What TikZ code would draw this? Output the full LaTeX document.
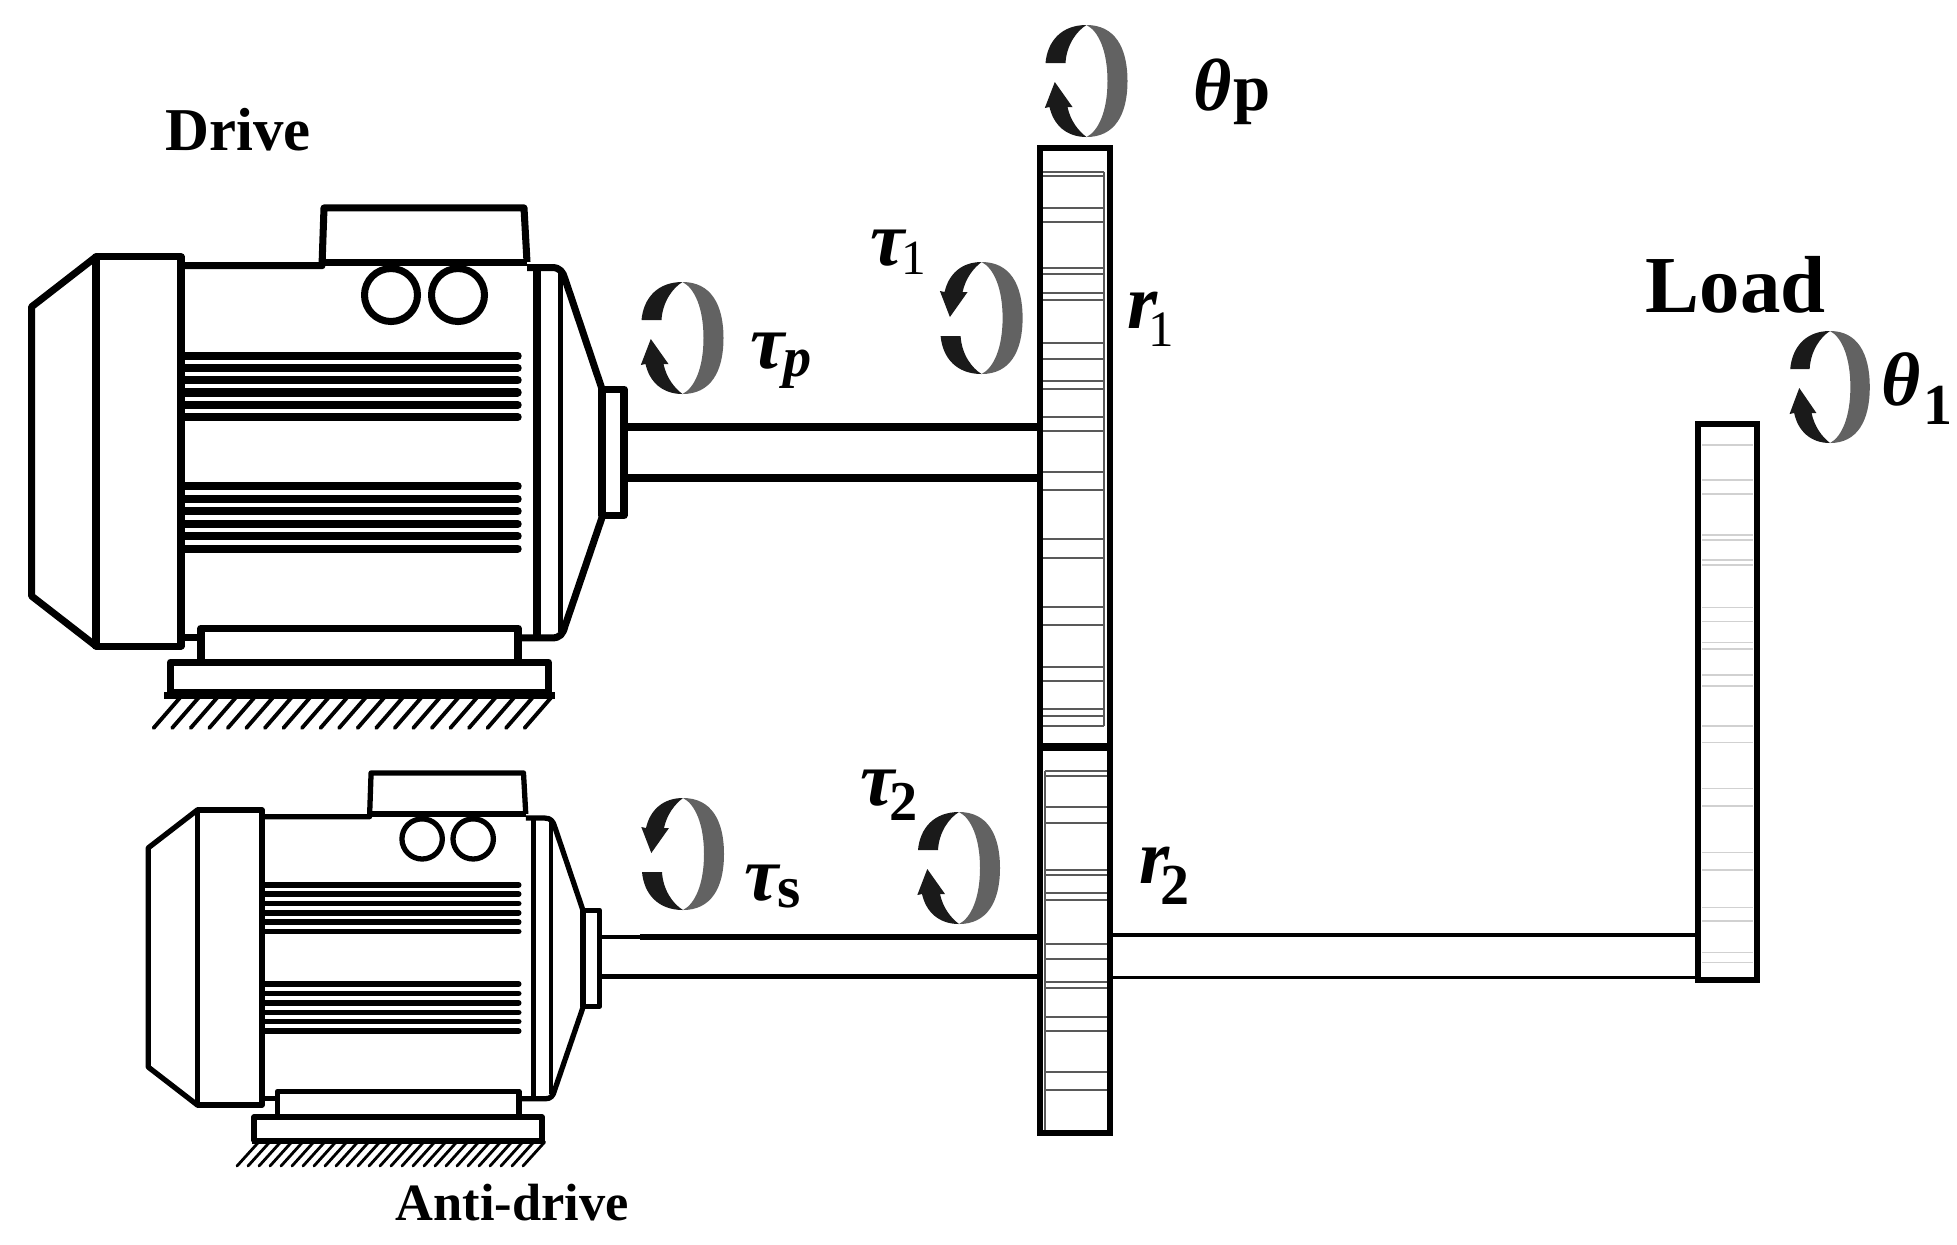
\documentclass[tikz,border=0pt]{standalone}
\usepackage{fontspec}
\setmainfont{Liberation Serif}
\usepackage{xcolor}
\usetikzlibrary{calc}
\definecolor{ringdark}{HTML}{1A1A1A}
\definecolor{ringgray}{HTML}{626262}
\tikzset{
  lbl/.style={inner sep=0pt,anchor=base west,font=\bfseries},
  toothline/.style={line width=0.6pt,black!65},
  loadline/.style={line width=0.35pt,black!18},
}
% subscript of a label: #1 kern, #2 drop, #3 font, #4 text
\newcommand{\sublbl}[4]{\kern#1\raisebox{-#2}{#3\selectfont #4}}
% motor outline, drawn at the size of the drive; #1 line width, #2 fin width
\newcommand{\drawmotor}[2]{
  \begin{scope}[line width=#1,line join=round]
  \draw (96,256.8)--(31.6,306.8)--(31.6,596)--(96,646);
  \draw (96,256.8) rectangle (181,646);
  \draw (181,265.7)--(322,265.7)--(324,207.9)--(524,207.9)--(527,262);
  \draw (322,262)--(527,262);
  \draw (527,267.5)--(552,267.5) .. controls (560,267.5) and (563,272) .. (565,279)--(602,389);
  \draw (602,517.5)--(565,626) .. controls (563,634) and (560,637.9) .. (552,637.9)--(522,637.9);
  \draw (537,267.5)--(537,637.9);
  \draw (181,637.9)--(201,637.9);
  \draw (201,662)--(201,628)--(518,628)--(518,662);
  \draw (170.5,662) rectangle (548.4,692.5);
  \draw (602,389) rectangle (624,515.7);
  \draw (391,295) circle[radius=26.5];
  \draw (458,295) circle[radius=26.5];
  \end{scope}
  \draw[line width=1.2pt] (560.5,272)--(560.5,632);
  \foreach \y in {355.7,367.9,380.4,392.5,405,417,486.4,499,511.4,524,536,548.6}{
    \draw[line width=#2,line cap=round] (183,\y)--(517.7,\y); }
}
% torque ring around (#1,#2); #3 xscale, #4 yscale (-1 turns the arrow over)
\newcommand{\ringarrow}[4]{
  \begin{scope}[shift={(#1,#2)},xscale=#3,yscale=#4]
  \fill[ringgray] (0,-56) .. controls (28,-56) and (41,-34) .. (41,0) .. controls (41,34) and (28,56) .. (0,56)
    .. controls (12,50) and (21,30) .. (21,0) .. controls (21,-30) and (12,-50) .. (0,-56)--cycle;
  \fill[ringdark] (0,-56) .. controls (-25,-56) and (-39,-40) .. (-41,-18)--(-21,-18)
    .. controls (-20,-36) and (-10,-50) .. (0,-56)--cycle;
  \fill[ringdark] (-31.7,1)--(-14,26)--(-19,26) .. controls (-16,40) and (-8,50) .. (0,56)
    .. controls (-20,56) and (-33,44) .. (-37,26)--(-41.7,27)--cycle;
  \end{scope}
}
\begin{document}
\begin{tikzpicture}[x=0.01cm,y=-0.01cm]
\useasboundingbox (0,0) rectangle (1957,1244);
\drawmotor{2pt}{2.3pt}
\draw[line width=2pt] (164,695)--(555,695);
\foreach \x in {0,1,...,20}{ \draw[line width=1.1pt,line cap=round] (153.6+\x*18.55,728)--(180.6+\x*18.55,697); }
\begin{scope}[shift={(124.2,615.3)},xscale=0.762,yscale=0.758]
\drawmotor{1.5pt}{1.6pt}
\end{scope}
\draw[line width=1.7pt] (252,1140.7)--(545,1140.7);
\foreach \x in {0,1,...,26}{ \draw[line width=0.8pt,line cap=round] (237+\x*11,1166)--(258.7+\x*11,1142); }
% shafts
\draw[line width=2.3pt] (624,427)--(1040,427);
\draw[line width=2.3pt] (624,478)--(1040,478);
\draw[line width=1pt] (598,937)--(640,937);
\draw[line width=1.8pt] (640,937)--(1040,937);
\draw[line width=1.3pt] (598,976.7)--(1040,976.7);
\draw[line width=1pt] (1110,935)--(1698,935);
\draw[line width=1pt] (1110,977.3)--(1698,977.3);
% gears
\foreach \y in {171.7,176,207.7,221.7,267.7,274,292.7,300,343.3,359.3,381,389,416.7,430.7,471.7,490,539,558,607,625,667,680.7,709,716,726}{
  \draw[toothline] (1043,\y)--(1104,\y); }
\draw[toothline] (1104,171.7)--(1104,726);
\foreach \y in {770.7,776,807,822.7,870,875,893,900,944,959,982,988,1016.7,1030.7,1071.7,1090}{
  \draw[toothline] (1045,\y)--(1107,\y); }
\draw[toothline] (1045,770.7)--(1045,1130);
\draw[line width=1.8pt] (1040,148.3) rectangle (1110,1133);
\draw[line width=2.4pt] (1040,747)--(1110,747);
% load
\foreach \y in {445,480,494,535,540,560,565,607.5,621.5,642.5,649,675,686,726,742.5,788.5,806,852.5,870,907.5,921,952.5,962.5}{
  \draw[loadline] (1702,\y)--(1753,\y); }
\draw[line width=1.7pt] (1698.3,424) rectangle (1757,980);
% rings
\ringarrow{1086.5}{81}{1}{1}
\ringarrow{682.5}{338}{1}{1}
\ringarrow{981.6}{318}{1}{-1}
\ringarrow{683}{854}{1}{-1}
\ringarrow{959}{868}{1}{1}
\ringarrow{1830}{387}{0.97}{1}
% labels
\node[lbl,font=\bfseries\fontsize{17.3}{20}\selectfont] (drive) at (165,150) {Drive};
\node[lbl,font=\bfseries\fontsize{14.9}{18}\selectfont] (antidrive) at (395,1220) {Anti-drive};
\node[lbl,font=\bfseries\fontsize{23}{26}\selectfont] (load) at (1645,312.5) {Load};
\node[lbl,font=\bfseries\itshape\fontsize{21}{24}\selectfont] (thetap) at (1193,110) {θ\sublbl{0.4pt}{0pt}{\upshape\fontsize{19}{22}}{p}};
\node[lbl,font=\bfseries\itshape\fontsize{22}{24}\selectfont] (tauone) at (870,265) {τ\sublbl{-1pt}{2.8pt}{\mdseries\upshape\fontsize{14}{16}}{1}};
\node[lbl,font=\bfseries\itshape\fontsize{22}{24}\selectfont] (taup) at (750,368) {τ\sublbl{-0.3pt}{2.3pt}{\fontsize{16}{18}}{p}};
\node[lbl,font=\bfseries\itshape\fontsize{22}{24}\selectfont] (rone) at (1127,328) {r\sublbl{-2.6pt}{5.3pt}{\mdseries\upshape\fontsize{14.5}{16}}{1}};
\node[lbl,font=\bfseries\itshape\fontsize{22}{24}\selectfont] (taus) at (744,900) {τ\sublbl{-0.4pt}{2pt}{\upshape\fontsize{17}{20}}{s}};
\node[lbl,font=\bfseries\itshape\fontsize{22}{24}\selectfont] (tautwo) at (860,805) {τ\sublbl{-1.6pt}{4.3pt}{\upshape\fontsize{16}{18}}{2}};
\node[lbl,font=\bfseries\itshape\fontsize{22}{24}\selectfont] (rtwo) at (1139,883) {r\sublbl{-2.6pt}{6pt}{\upshape\fontsize{16.5}{18}}{2}};
\node[lbl,font=\bfseries\itshape\fontsize{21.5}{24}\selectfont] (thetaone) at (1881,405) {θ\sublbl{0.6pt}{5.4pt}{\upshape\fontsize{16.5}{18}}{1}};
\end{tikzpicture}
\end{document}
